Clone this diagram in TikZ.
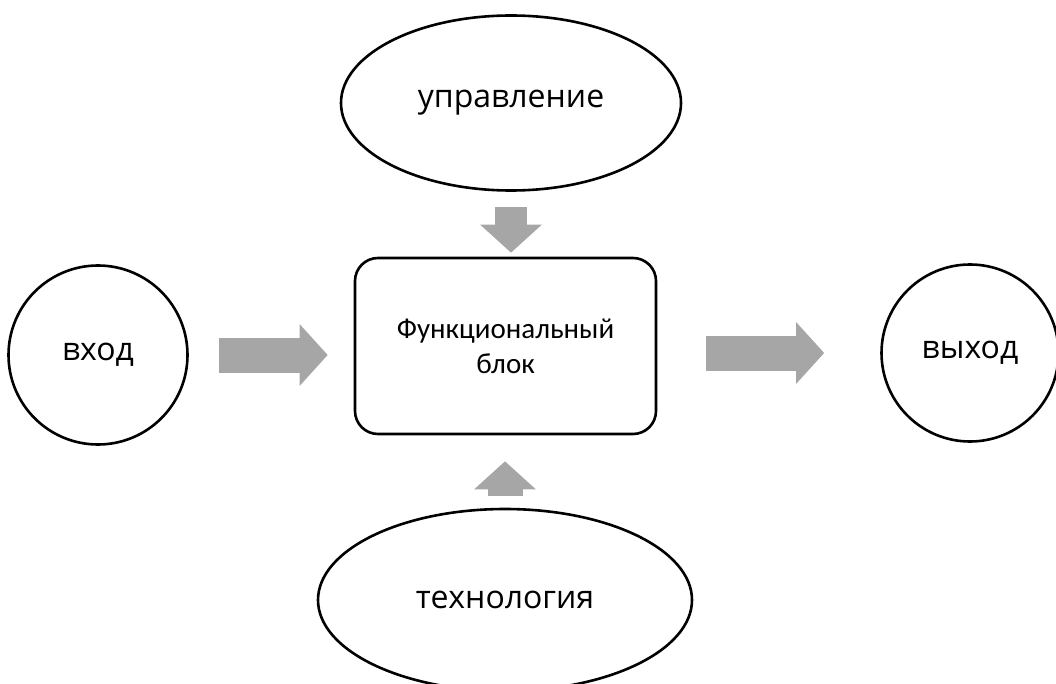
\documentclass[tikz,border=0pt]{standalone}
\usepackage{fontspec}
\setmainfont{Open Sans}
\newfontfamily\blockfont{Carlito}
\usetikzlibrary{shapes.geometric,arrows.meta}
\definecolor{arrowgray}{HTML}{A6A6A6}
\tikzset{
	oval/.style={ellipse, draw, line width=2.6pt, inner sep=0pt, font=\fontsize{32}{38}\selectfont},
	ring/.style={circle, draw, line width=2.6pt, inner sep=0pt, font=\fontsize{32}{38}\selectfont},
	funcbox/.style={rectangle, draw, line width=2.6pt, rounded corners=23pt, align=center,
		minimum width=301pt, minimum height=176pt, font=\blockfont\fontsize{29}{35}\selectfont},
	flow/.style={draw=arrowgray, line width=35pt, -{Triangle[length=28pt, width=60pt]}}
}
\begin{document}
\begin{tikzpicture}[x=1pt, y=-1pt]
	\clip (0,0) rectangle (1056,684);
	\node[oval, minimum width=340pt, minimum height=175pt] (ctrl) at (511,103) {управление};
	\node[oval, minimum width=374pt, minimum height=182pt] (tech) at (505,600) {технология};
	\node[ring, minimum size=179pt] (in) at (98,355) {вход};
	\node[ring, minimum size=177pt] (out) at (970,353) {выход};
	\node[funcbox] (fb) at (505.5,346) {Функциональный\\блок};
	\draw[flow, shorten <=30pt, shorten >=26pt] (in.east) -- (in.east -| fb.west);
	\draw[flow, shorten <=49pt, shorten >=56pt] (out.west -| fb.east) -- (out.west);
	\draw[flow, line width=32pt, shorten <=15pt, shorten >=4pt] (ctrl.south) -- (ctrl.south |- fb.north);
	\draw[flow, shorten <=12pt, shorten >=26pt] (tech.north) -- (tech.north |- fb.south);
\end{tikzpicture}
\end{document}
